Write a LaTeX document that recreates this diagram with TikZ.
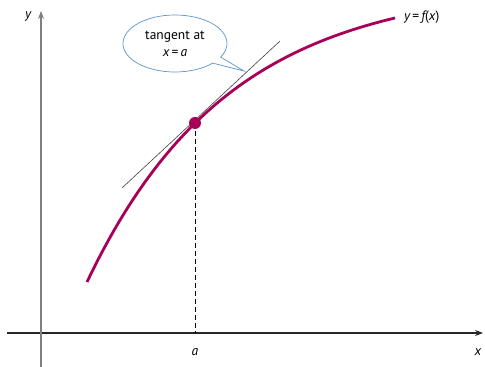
\documentclass[tikz,border=0pt]{standalone}
\usepackage{fontspec}
\setmainfont{PT Sans}
\usetikzlibrary{arrows.meta,shapes.callouts}
\definecolor{courbe}{RGB}{168,0,88}
\definecolor{bulle}{RGB}{90,150,205}
\begin{document}
\begin{tikzpicture}[x=1pt,y=1pt, every node/.style={font=\fontsize{13.5}{16}\selectfont},
  axe/.style={-{Stealth[length=8pt,width=6pt]},line width=1.1pt}]
\useasboundingbox (0,0) rectangle (485,367);
% Axes
\coordinate (xdeb) at (7,34);
\coordinate (xfin) at (483,34);
\coordinate (ydeb) at (41,0);
\coordinate (yfin) at (41,356);
\draw[axe,black!85] (xdeb) -- (xfin);
\draw[axe,gray] (ydeb) -- (yfin);
\node (lx) at (478,15) {\itshape x};
\node (ly) at (28,350) {\itshape y};

% Courbe y = f(x)
\draw[courbe,line width=2.8pt] plot[domain=87:395,samples=80,smooth] (\x,{383-298*exp(-0.00705*(\x-87))}) coordinate (cfin);
\node[anchor=west,inner sep=0pt] (lf) at (404,350) {\itshape y\,\upshape=\,\itshape f\upshape(\itshape x\upshape)};

% Tangente au point a
\coordinate (P) at (195,244);
\coordinate (tdeb) at (122,179);
\coordinate (tfin) at (280,326);
\draw[black!75,line width=0.6pt] (tdeb) -- (tfin);
\coordinate (pa) at (195,34);
\draw[dashed,line width=0.8pt,dash pattern=on 5pt off 3pt] (P) -- (pa);
\fill[courbe] (P) circle (6);
\node (la) at (195,15) {\itshape a};

% Bulle
\coordinate (pointe) at (244,296);
\node[ellipse callout,draw=bulle,fill=white,line width=0.7pt,minimum width=104pt,minimum height=57pt,
  inner sep=0pt,align=center,callout absolute pointer=(pointe)] (bulle) at (175,323.5)
  {tangent at\\[1pt] \itshape x\,\upshape=\,\itshape a};
\end{tikzpicture}
\end{document}
